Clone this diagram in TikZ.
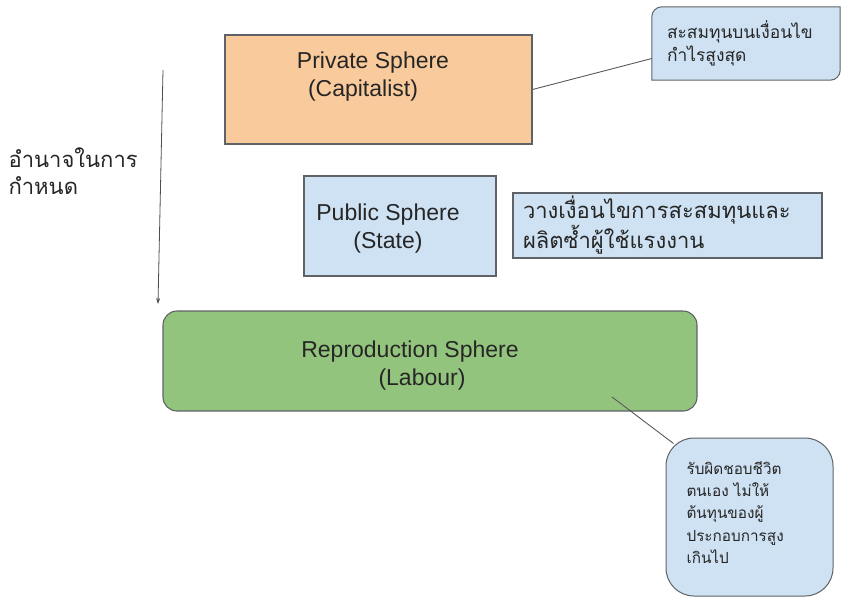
\documentclass[tikz,border=0pt]{standalone}
\usepackage{fontspec}
\setmainfont{Liberation Sans}
\newfontfamily\thai[Script=Thai]{Loma}
\usetikzlibrary{arrows.meta,backgrounds}
\definecolor{orangebox}{HTML}{F9CB9C}
\definecolor{bluebox}{HTML}{CFE2F3}
\definecolor{greenbox}{HTML}{93C47D}
\definecolor{rimgray}{HTML}{5F6368}
\tikzset{sphere/.style={draw=rimgray, line width=1.1pt, inner sep=0pt},
         spheretext/.style={align=center, inner sep=0pt, font=\fontsize{23}{28}\selectfont, text=black!85},
         notetext/.style={align=left, inner ysep=0pt, text=black!85},
         notefill/.style={draw=rimgray, line width=1pt, fill=bluebox},
         link/.style={draw=black!65, line width=0.9pt},
         power/.style={-{Stealth[length=6pt,width=4pt]}, draw=black!70, line width=0.8pt}
}

\begin{document}
\begin{tikzpicture}[x=1pt,y=-1pt]
    \useasboundingbox (0,0) rectangle (843,600);

    \node[sphere, fill=orangebox, minimum width=307pt, minimum height=109pt] (priv) at (378.5,89.5) {};
    \node[spheretext] (privtxt) at (373,77) {Private Sphere\\\hspace*{-20pt}(Capitalist)};
    \node[sphere, fill=bluebox, minimum width=192pt, minimum height=100pt] (pub) at (400,226) {};
    \node[spheretext] (pubtxt) at (388,229) {Public Sphere\\(State)};
    \node[sphere, fill=bluebox, align=left, inner xsep=10pt, text width=289pt, minimum height=65pt,
          font=\thai\fontsize{22}{29}\selectfont, text=black!85] (cond) at (667.5,225.5)
        {วางเงื่อนไขการสะสมทุนและ\\ผลิตซ้ำผู้ใช้แรงงาน};
    \node[sphere, fill=greenbox, rounded corners=14pt, minimum width=534pt, minimum height=100pt] (repro) at (430,361) {};
    \node[spheretext] (reprotxt) at (410,366) {Reproduction Sphere\\\hspace*{24pt}(Labour)};

    \node[notetext, inner xsep=15pt, text width=158pt, minimum height=73pt,
          font=\thai\fontsize{17.4}{22.5}\selectfont] (tnote) at (746,43.5)
        {สะสมทุนบนเงื่อนไข\\กำไรสูงสุด};
    \node[notefill, rounded corners=28pt, minimum width=167pt, minimum height=158pt] (bnote) at (749.5,517) {};
    \node[notetext, anchor=west, font=\thai\fontsize{15.3}{22.3}\selectfont] (bnotetxt) at (683,512.5)
        {รับผิดชอบชีวิต\\ตนเอง ไม่ให้\\ต้นทุนของผู้\\ประกอบการสูง\\เกินไป};

    \node[notetext, anchor=west, font=\thai\fontsize{22}{27}\selectfont] (label) at (5,171)
        {อำนาจในการ\\กำหนด};

    % callout with two rounded corners
    \begin{scope}[on background layer]
        \draw[notefill] ([yshift=10pt]tnote.south west) -- ([yshift=-10pt]tnote.north west)
            arc[start angle=180, end angle=90, radius=10pt] -- (tnote.north east)
            -- ([yshift=10pt]tnote.south east)
            arc[start angle=0, end angle=-90, radius=10pt] -- (tnote.south west) -- cycle;
    \end{scope}

    \coordinate (atop) at (163,70);
    \coordinate (abot) at (158,304);
    \coordinate (rin) at (612,397);

    \draw[link] (priv.east) -- ([yshift=-15pt]tnote.west);
    \draw[link] (rin) -- ([shift={(8pt,-6pt)}]bnote.north west);
    \draw[power] (atop) -- (abot);
\end{tikzpicture}
\end{document}
